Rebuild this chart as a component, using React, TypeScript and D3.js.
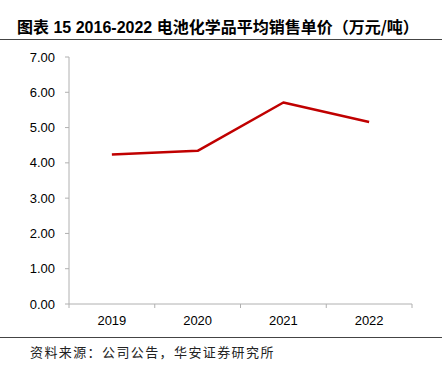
import React from "react";
import * as d3 from "d3";

const categories = ["2019", "2020", "2021", "2022"];
const values = [4.24, 4.34, 5.71, 5.16];
const yTicks = [0, 1, 2, 3, 4, 5, 6, 7];
const titlePrefix = "图表";
const titleNums = " 15 2016-2022 ";
const titleText = "电池化学品平均销售单价（万元/吨）";
const source = "资料来源：公司公告，华安证券研究所";

export default function App() {
  const W = 447, H = 367;
  const x0 = 69, x1 = 412, yTop = 57, yBot = 304;
  const x = d3.scaleBand().domain(categories).range([x0, x1]);
  const y = d3.scaleLinear().domain([0, 7]).range([yBot, yTop]);
  const line = d3
    .line<number>()
    .x((_, i) => (x(categories[i]) as number) + x.bandwidth() / 2)
    .y((d) => y(d));
  const axisColor = "#b0b0b0";
  const font = "'Liberation Sans', Arial, sans-serif";
  const bounds = [...categories.map((c) => x(c) as number), x1];
  return (
    <svg width={W} height={H} style={{ position: "absolute", left: 0, top: 0, background: "#fff" }}>
      <text x={17} y={33} fontSize={16} fill="#000"
        fontFamily="'Liberation Sans', 'Noto Sans CJK SC', sans-serif">
        <tspan fontFamily="'Noto Sans CJK SC', sans-serif" fontWeight={700}>{titlePrefix}</tspan>
        <tspan fontWeight="bold">{titleNums}</tspan>
        <tspan fontFamily="'Noto Sans CJK SC', sans-serif" fontWeight={700}>{titleText}</tspan>
      </text>
      <line x1={0} x2={442} y1={39.5} y2={39.5} stroke="#444" strokeWidth={1} />
      {yTicks.map((t) => (
        <g key={t}>
          <line x1={65} x2={x0} y1={y(t)} y2={y(t)} stroke={axisColor} />
          <text x={55} y={y(t)} dy="0.35em" textAnchor="end" fontSize={13} fontFamily={font} fill="#000">
            {t.toFixed(2)}
          </text>
        </g>
      ))}
      <line x1={x0} x2={x0} y1={yTop} y2={yBot} stroke={axisColor} />
      <line x1={x0} x2={x1} y1={yBot} y2={yBot} stroke={axisColor} />
      {bounds.map((b, i) => (
        <line key={i} x1={b} x2={b} y1={yBot} y2={yBot + 4} stroke={axisColor} />
      ))}
      {categories.map((c) => (
        <text key={c} x={(x(c) as number) + x.bandwidth() / 2} y={320} dy="0.35em" textAnchor="middle"
          fontSize={13} fontFamily={font} fill="#000">{c}</text>
      ))}
      <path d={line(values) || ""} fill="none" stroke="#c00000" strokeWidth={2.5} strokeLinejoin="round" />
      <line x1={0} x2={442} y1={337.5} y2={337.5} stroke="#444" strokeWidth={1} />
      <text x={30} y={352} dy="0.35em" fontSize={13} letterSpacing={1.4} fill="#222"
        fontFamily="'Noto Sans CJK SC', sans-serif">{source}</text>
    </svg>
  );
}
